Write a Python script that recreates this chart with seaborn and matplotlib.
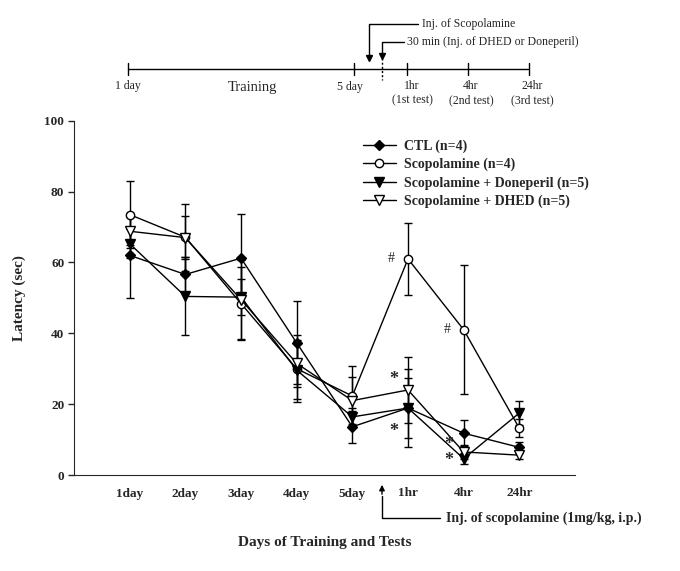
import numpy as np
import pandas as pd
import matplotlib
matplotlib.use("Agg")
import matplotlib.pyplot as plt
import seaborn as sns

sns.set_style("ticks")
plt.rcParams['font.family'] = ['Liberation Serif', 'DejaVu Serif']

# data
days = ["1day", "2day", "3day", "4day", "5day", "1hr", "4hr", "24hr"]
ctl_mean = [62, 56.6, 61.2, 37.3, 13.6, 18.9, 11.8, 7.8]
ctl_err = [12, 5, 12.6, 11.7, 4.6, 8.5, 3.6, 1.5]
scop_mean = [73.5, 67.1, 48.4, 30, 22.3, 61, 41, 13.2]
scop_err = [9.5, 9.5, 10.4, 9.4, 8.5, 10.2, 18.2, 2.5]
done_mean = [65.3, 50.4, 50.2, 29.6, 16.4, 18.9, 4.6, 17.5]
done_err = [4, 11, 5, 8.2, 2.5, 11, 1.5, 3.5]
dhed_mean = [68.8, 67, 49.5, 31.5, 21, 24, 6.5, 5.6]
dhed_err = [4, 6, 11.2, 6.6, 6.7, 9.2, 2, 1]

groups = ["CTL (n=4)", "Scopolamine (n=4)",
          "Scopolamine + Doneperil (n=5)", "Scopolamine + DHED (n=5)"]
means = [ctl_mean, scop_mean, done_mean, dhed_mean]
errs = [ctl_err, scop_err, done_err, dhed_err]
styles = [dict(marker="D", markersize=5, markerfacecolor="black"),
          dict(marker="o", markersize=6, markerfacecolor="white"),
          dict(marker="v", markersize=7, markerfacecolor="black"),
          dict(marker="v", markersize=7, markerfacecolor="white")]

rows = []
for g, m, e in zip(groups, means, errs):
    for i, d in enumerate(days):
        rows.append({"group": g, "pos": i, "day": d, "latency": m[i], "err": e[i]})
df = pd.DataFrame(rows)

fig = plt.figure(figsize=(6.8, 5.71), dpi=100)
ax = fig.add_axes([74 / 680, 1 - 475 / 571, 501 / 680, 354.3 / 571])

for g, st in zip(groups, styles):
    sub = df[df["group"] == g]
    ax.errorbar(sub["pos"], sub["latency"], yerr=sub["err"], fmt="none",
                ecolor="black", elinewidth=1, capsize=3, capthick=1, zorder=2)
    sns.lineplot(data=sub, x="pos", y="latency", ax=ax, color="black",
                 linewidth=1, markeredgecolor="black", markeredgewidth=1,
                 label=g, zorder=3, **st)

# significance marks
for x, y, s in [(4.76, 61, "#"), (5.76, 41, "#")]:
    ax.text(x, y, s, ha="right", va="center", fontsize=10)
for x, y in [(4.74, 27), (4.74, 12.4), (5.74, 8.5), (5.74, 4)]:
    ax.text(x, y, "*", ha="center", va="center", fontsize=13, fontweight="bold")

ax.set_xlim(-1, 8)
ax.set_ylim(0, 100)
ax.set_yticks([0, 20, 40, 60, 80, 100])
ax.set_xticks(range(len(days)))
ax.set_xticklabels(days)
ax.tick_params(axis="x", length=0, pad=9, labelsize=9.5)
ax.tick_params(axis="y", length=4, width=1, pad=3, labelsize=9.5)
for lab in ax.get_xticklabels() + ax.get_yticklabels():
    lab.set_fontweight("bold")
sns.despine(ax=ax)
ax.set_xlabel("Days of Training and Tests", fontsize=11, fontweight="bold", labelpad=26)
ax.set_ylabel("Latency (sec)", fontsize=11, fontweight="bold", labelpad=13)

leg = ax.legend(loc="upper left", bbox_to_anchor=(0.565, 0.963), frameon=False,
                borderaxespad=0, handlelength=2.4, handletextpad=0.6,
                labelspacing=0.35, prop={"weight": "bold", "size": 10})

# overlay in pixel units for the timeline and injection arrows
ov = fig.add_axes([0, 0, 1, 1], zorder=5)
ov.set_xlim(0, 680)
ov.set_ylim(571, 0)
ov.axis("off")
ov.patch.set_alpha(0)

lw = 1
ov.plot([128, 528], [69, 69], color="black", lw=lw)
for tx in [128, 354, 407, 468, 529]:
    ov.plot([tx, tx], [63, 75], color="black", lw=lw)
ov.plot([382, 382], [58, 80], color="black", lw=1, ls=(0, (1.5, 1.5)))
# scopolamine injection arrow
ov.plot([369, 369, 418], [59, 24, 24], color="black", lw=lw)
ov.plot([369], [58], marker="v", color="black", markersize=4)
ov.text(422, 24, "Inj. of Scopolamine", fontsize=8.5, va="center")
# DHED / donepezil arrow
ov.plot([382, 382, 404], [57, 42, 42], color="black", lw=lw)
ov.plot([382], [56], marker="v", color="black", markersize=4)
ov.text(407, 42, "30 min (Inj. of DHED or Doneperil)", fontsize=8.5, va="center")

ov.text(128, 86, "1 day", fontsize=8.5, ha="center", va="center")
ov.text(252, 87, "Training", fontsize=10.5, ha="center", va="center")
ov.text(350, 87, "5 day", fontsize=8.5, ha="center", va="center")
for cx, a, b in [(412, "1hr", "(1st test)"), (471, "4hr", "(2nd test)"),
                 (532, "24hr", "(3rd test)")]:
    ov.text(cx, 86, a, fontsize=8.5, ha="center", va="center")
    ov.text(cx, 100, b, fontsize=8.5, ha="center", va="center")

# injection arrow under the x axis
ov.annotate("", xy=(382, 482), xytext=(382, 497),
            arrowprops=dict(arrowstyle="-|>", color="black", lw=1, mutation_scale=8))
ov.plot([382, 382, 440], [496, 518, 518], color="black", lw=lw)
ov.text(446, 518, "Inj. of scopolamine (1mg/kg, i.p.)", fontsize=10,
        fontweight="bold", va="center")

fig.savefig("out.png", dpi=100)
